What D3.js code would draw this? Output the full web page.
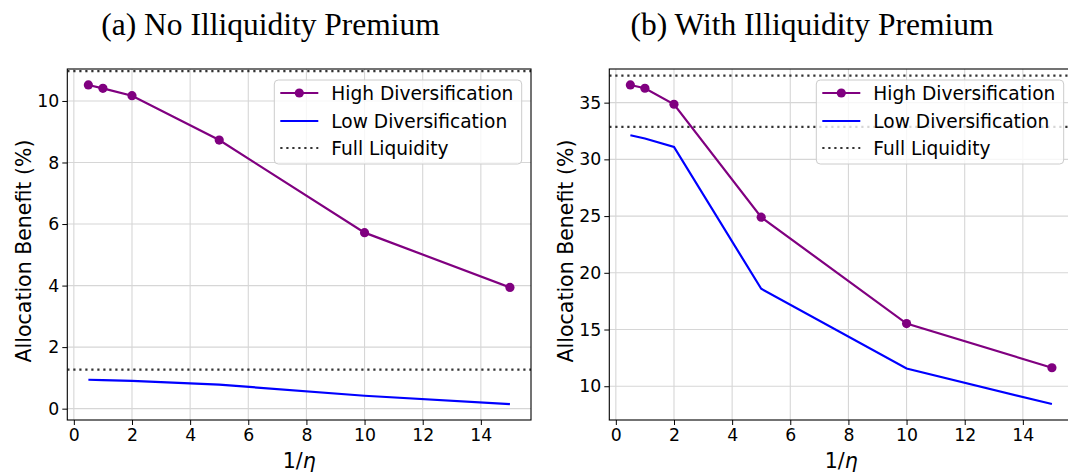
<!DOCTYPE html>
<html>
<head>
<meta charset="utf-8">
<script src="https://cdn.jsdelivr.net/npm/d3@7"></script>
<style>
  html, body { margin: 0; padding: 0; background: #fff; }
  svg { display: block; }
  .tick-label { font-family: "DejaVu Sans", sans-serif; font-size: 17.3px; fill: #000; }
  .axis-label { font-family: "DejaVu Sans", sans-serif; font-size: 20.5px; fill: #000; }
  .legend-text { font-family: "DejaVu Sans", sans-serif; font-size: 18.6px; fill: #000; }
  .title { font-family: "Liberation Serif", "Times New Roman", serif; font-size: 31.5px; fill: #000; }
</style>
</head>
<body>
<svg id="chart" width="1068" height="473"></svg>
<script>
// Horizontal axis: 1/eta
const etaInv = [0.5, 1, 2, 5, 10, 15];

// Panel (a): no illiquidity premium
const highNoPrem = [10.52, 10.41, 10.17, 8.73, 5.72, 3.94];
const lowNoPrem = [0.94, 0.93, 0.90, 0.78, 0.42, 0.15];
const fullNoPrem = [10.97, 1.27];

// Panel (b): with illiquidity premium
const highPrem = [36.56, 36.27, 34.86, 24.9, 15.52, 11.63];
const lowPrem = [32.13, 31.84, 31.1, 18.59, 11.56, 8.43];
const fullPrem = [37.38, 32.86];

const xTicks = [0, 2, 4, 6, 8, 10, 12, 14];
const yTicksNoPrem = [0, 2, 4, 6, 8, 10];
const yTicksPrem = [10, 15, 20, 25, 30, 35];

const seriesNames = ["High Diversification", "Low Diversification", "Full Liquidity"];
const titles = ["(a) No Illiquidity Premium", "(b) With Illiquidity Premium"];

const svg = d3.select("#chart");

// matplotlib-style 5% auto margins
function padded(vals) {
  const lo = d3.min(vals), hi = d3.max(vals), r = hi - lo;
  return [lo - 0.05 * r, hi + 0.05 * r];
}

const plotW = 463.7, plotH = 351, plotTop = 69;

function drawPanel(idx, left, high, low, full, yTicks, titleX) {
  const g = svg.append("g");
  const x = d3.scaleLinear().domain(padded(etaInv)).range([left, left + plotW]);
  const y = d3.scaleLinear().domain(padded(high.concat(low))).range([plotTop + plotH, plotTop]);
  const right = left + plotW, bottom = plotTop + plotH;

  const clipId = "clip" + idx;
  g.append("clipPath").attr("id", clipId).append("rect")
    .attr("x", left).attr("y", plotTop).attr("width", plotW).attr("height", plotH);

  // grid
  const grid = g.append("g").attr("stroke", "#d6d6d6").attr("stroke-width", 1.1);
  xTicks.forEach(t => grid.append("line")
    .attr("x1", x(t)).attr("x2", x(t)).attr("y1", plotTop).attr("y2", bottom));
  yTicks.forEach(t => grid.append("line")
    .attr("x1", left).attr("x2", right).attr("y1", y(t)).attr("y2", y(t)));

  const plot = g.append("g").attr("clip-path", `url(#${clipId})`);

  // full-liquidity reference levels
  full.forEach(v => plot.append("line")
    .attr("x1", left).attr("x2", right).attr("y1", y(v)).attr("y2", y(v))
    .attr("stroke", "#333").attr("stroke-width", 2.2).attr("stroke-dasharray", "2.2,3.8"));

  const line = d3.line().x((d, i) => x(etaInv[i])).y(d => y(d));
  plot.append("path").datum(low).attr("d", line)
    .attr("fill", "none").attr("stroke", "#0000ff").attr("stroke-width", 2.2);
  plot.append("path").datum(high).attr("d", line)
    .attr("fill", "none").attr("stroke", "#800080").attr("stroke-width", 2.2);
  plot.selectAll("circle.hd").data(high).join("circle").attr("class", "hd")
    .attr("cx", (d, i) => x(etaInv[i])).attr("cy", d => y(d)).attr("r", 4.6)
    .attr("fill", "#800080");

  // axes
  const xAxis = g.append("g").attr("transform", `translate(0,${bottom})`)
    .call(d3.axisBottom(x).tickValues(xTicks).tickSize(5).tickPadding(4).tickFormat(d3.format("d")));
  const yAxis = g.append("g").attr("transform", `translate(${left},0)`)
    .call(d3.axisLeft(y).tickValues(yTicks).tickSize(5).tickPadding(3).tickFormat(d3.format("d")));
  [xAxis, yAxis].forEach(a => {
    a.select(".domain").remove();
    a.selectAll(".tick line").attr("stroke", "#000").attr("stroke-width", 1);
    a.selectAll(".tick text").attr("class", "tick-label").attr("font-size", null).attr("font-family", null);
  });
  xAxis.selectAll(".tick text").attr("dy", "0.72em");

  // spines
  g.append("rect").attr("x", left).attr("y", plotTop).attr("width", plotW).attr("height", plotH)
    .attr("fill", "none").attr("stroke", "#000").attr("stroke-width", 1.1);

  // axis labels
  const xl = g.append("text").attr("class", "axis-label")
    .attr("x", left + plotW / 2).attr("y", 468).attr("text-anchor", "middle");
  xl.append("tspan").text("1/");
  xl.append("tspan").attr("font-style", "italic").text("η");
  g.append("text").attr("class", "axis-label")
    .attr("transform", `translate(${left - 36},251) rotate(-90)`)
    .attr("text-anchor", "middle").text("Allocation Benefit (%)");

  // title
  g.append("text").attr("class", "title").attr("x", titleX).attr("y", 35)
    .attr("text-anchor", "middle").text(titles[idx]);

  // legend
  const lw = 247.4, lh = 84;
  const lx = right - 9.3 - lw, ly = 80;
  const leg = g.append("g");
  leg.append("rect").attr("x", lx).attr("y", ly).attr("width", lw).attr("height", lh)
    .attr("rx", 4).attr("fill", "#fff").attr("fill-opacity", 0.8)
    .attr("stroke", "#cccccc").attr("stroke-width", 1);
  const rows = [13, 41, 68];
  const styles = [
    { stroke: "#800080", dash: null, marker: true, w: 2.2 },
    { stroke: "#0000ff", dash: null, marker: false, w: 2.2 },
    { stroke: "#333", dash: "2.2,3.8", marker: false, w: 2.2 }
  ];
  seriesNames.forEach((name, i) => {
    const yy = ly + rows[i];
    const s = styles[i];
    leg.append("line").attr("x1", lx + 6).attr("x2", lx + 44).attr("y1", yy).attr("y2", yy)
      .attr("stroke", s.stroke).attr("stroke-width", s.w).attr("stroke-dasharray", s.dash);
    if (s.marker) leg.append("circle").attr("cx", lx + 25).attr("cy", yy).attr("r", 4.6).attr("fill", s.stroke);
    leg.append("text").attr("class", "legend-text").attr("x", lx + 57).attr("y", yy)
      .attr("dy", "0.36em").text(name);
  });
}

drawPanel(0, 67.3, highNoPrem, lowNoPrem, fullNoPrem, yTicksNoPrem, 270.5);
drawPanel(1, 609.3, highPrem, lowPrem, fullPrem, yTicksPrem, 812);
</script>
</body>
</html>
